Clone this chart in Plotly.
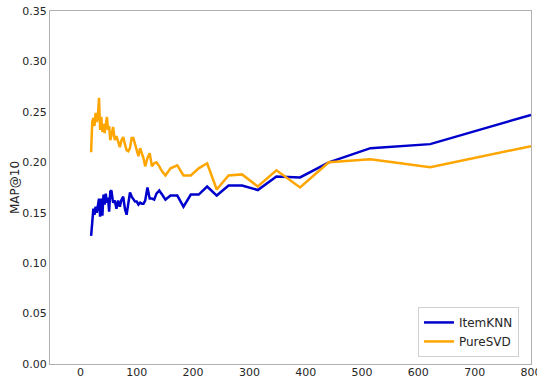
import plotly.graph_objects as go

# Number of neighbours / latent factors evaluated
n_values = [19, 21, 23, 25, 27, 29, 31, 33, 35, 37, 39, 41, 43, 45, 47, 49, 51, 53, 55,
            58, 61, 64, 67, 70, 73, 76, 79, 82, 85, 88, 91, 94, 97, 100, 103, 106, 109,
            112, 115, 119, 123, 127, 131, 135, 140, 145, 151, 160, 172, 183, 196, 210,
            225, 242, 263, 287, 315, 348, 390, 441, 515, 621, 800]

itemknn_map = [0.127, 0.138, 0.154, 0.148, 0.156, 0.150, 0.158, 0.164, 0.146, 0.164,
               0.147, 0.168, 0.158, 0.169, 0.160, 0.165, 0.151, 0.171, 0.172, 0.160,
               0.162, 0.154, 0.162, 0.156, 0.163, 0.166, 0.154, 0.148, 0.159, 0.170,
               0.166, 0.164, 0.161, 0.161, 0.158, 0.160, 0.159, 0.159, 0.162, 0.175,
               0.164, 0.164, 0.163, 0.169, 0.172, 0.168, 0.163, 0.167, 0.167, 0.156,
               0.168, 0.168, 0.176, 0.167, 0.177, 0.177, 0.1725, 0.186, 0.185, 0.200,
               0.214, 0.218, 0.247]

puresvd_map = [0.210, 0.240, 0.244, 0.236, 0.249, 0.240, 0.245, 0.264, 0.232, 0.245,
               0.230, 0.238, 0.229, 0.238, 0.245, 0.232, 0.236, 0.222, 0.226, 0.235,
               0.222, 0.226, 0.219, 0.215, 0.222, 0.225, 0.218, 0.212, 0.211, 0.214,
               0.224, 0.224, 0.218, 0.212, 0.206, 0.214, 0.209, 0.204, 0.196, 0.204,
               0.209, 0.196, 0.199, 0.200, 0.196, 0.191, 0.187, 0.194, 0.197, 0.187,
               0.187, 0.194, 0.199, 0.173, 0.187, 0.188, 0.176, 0.192, 0.175, 0.200,
               0.203, 0.195, 0.216]

x_ticks = [0, 100, 200, 300, 400, 500, 600, 700, 800]
y_ticks = [0.00, 0.05, 0.10, 0.15, 0.20, 0.25, 0.30, 0.35]

fig = go.Figure()
fig.add_trace(go.Scatter(x=n_values, y=itemknn_map, mode="lines", name="ItemKNN",
                         line=dict(color="#0000CD", width=2.5)))
fig.add_trace(go.Scatter(x=n_values, y=puresvd_map, mode="lines", name="PureSVD",
                         line=dict(color="#FFA500", width=2.5)))

axis_common = dict(showgrid=False, zeroline=False, showline=True, mirror=True,
                   linecolor="#b0b0b0", linewidth=1, ticks="",
                   tickfont=dict(family="DejaVu Sans", size=11, color="#262626"),
                   ticklabeloverflow="allow", automargin=False)

fig.update_layout(
    width=537, height=379,
    margin=dict(l=50, r=6, t=11, b=15),
    paper_bgcolor="white", plot_bgcolor="white",
    font=dict(family="DejaVu Sans", color="#262626"),
    xaxis=dict(range=[-54, 800], tickvals=x_ticks, ticklabelstandoff=-2, **axis_common),
    yaxis=dict(range=[0, 0.35], tickvals=y_ticks, tickformat=".2f",
               title=dict(text="MAP@10", font=dict(size=12, color="#262626"), standoff=0),
               **axis_common),
    legend=dict(x=0.975, y=0.02, xanchor="right", yanchor="bottom",
                bgcolor="white", bordercolor="#d0d0d0", borderwidth=1,
                font=dict(family="DejaVu Sans", size=12, color="#262626"),
                itemwidth=30, tracegroupgap=0),
    showlegend=True,
)

fig.write_html("out.html")
